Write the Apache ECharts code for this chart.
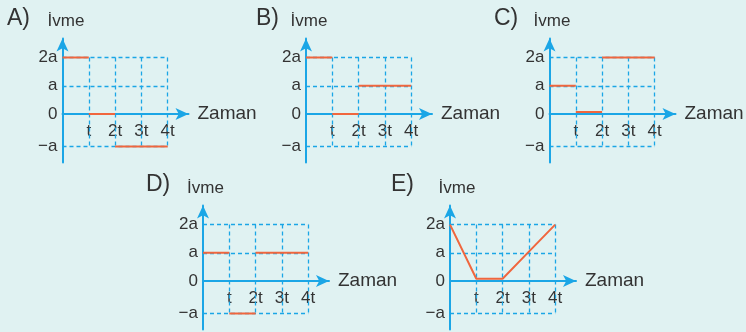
<!DOCTYPE html>
<html>
<head>
<meta charset="utf-8">
<script src="https://cdn.jsdelivr.net/npm/echarts@6/dist/echarts.min.js"></script>
<style>
    html, body { margin: 0; padding: 0; background: #e0f2f2; }
    #visualisation { width: 746px; height: 332px; }
</style>
</head>
<body>
<div id="visualisation"></div>
<script>
// Tijd-as: tick waarden en labels.
const timeTicks = [1, 2, 3, 4];
const timeLabels = ['t', '2t', '3t', '4t'];

// Ivme-as: tick waarden en labels (−a staat iets lager in het plaatje).
const accelTicks = [2, 1, 0, -1.15];
const accelLabels = ['2a', 'a', '0', '−a'];

// Ivme per interval: 0-t, t-2t, 2t-3t, 3t-4t.
const stepsA = [2, 0, -1.15, -1.15];
const stepsB = [2, 0, 1, 1];
const stepsC = [1, 0.07, 2, 2];
const stepsD = [1, -1.15, 1, 1];

// E is een gebroken lijn door 0, t, 2t, 3t, 4t.
const pointsE = [2, 0.08, 0.08, 1.04, 2];

const panelNames = ['A)', 'B)', 'C)', 'D)', 'E)'];

function drawVisualisation() {
    let visualisation = echarts.init(document.getElementById('visualisation'));

    const blue = '#1ba6e6';
    const orange = '#f0663e';
    const textColor = '#333333';
    const font = 'Liberation Sans';

    // Plaats van de oorsprong per paneel, en de schaal.
    const origins = [[62.5, 114], [306, 114], [549.5, 114], [203, 281], [450, 281]];
    const nameShift = [7, 6, 5, 5, 14];
    const letterPos = [[7, 7], [256, 7], [494, 7], [146, 173], [391, 173]];
    const xUnit = 26.3, yUnit = 28.2;
    const xMax = 4.79, yMax = 2.68, yMin = -1.72;

    // Zet de stappen om in losse lijnstukken.
    function stepSegments(steps) {
        let segs = [];
        let start = 0;
        for (let i = 1; i <= steps.length; i++) {
            if (i === steps.length || steps[i] !== steps[start]) {
                segs.push([[start, steps[start]], [i, steps[start]]]);
                start = i;
            }
        }
        return segs;
    }

    let panels = [
        stepSegments(stepsA),
        stepSegments(stepsB),
        stepSegments(stepsC),
        stepSegments(stepsD),
        [pointsE.map((v, i) => [i, v])]
    ];

    // Gestippeld raster uit de ticks.
    let top = accelTicks[0];
    let bottom = accelTicks[accelTicks.length - 1];
    let last = timeTicks[timeTicks.length - 1];
    let gridLines = [];
    accelTicks.filter(v => v !== 0).forEach(v => {
        gridLines.push([{ coord: [0, v] }, { coord: [last, v] }]);
    });
    timeTicks.forEach(t => {
        gridLines.push([{ coord: [t, top] }, { coord: [t, bottom] }]);
    });

    let grid = [], xAxis = [], yAxis = [], series = [], title = [];

    origins.forEach((o, i) => {
        grid.push({
            left: o[0],
            top: o[1] - yMax * yUnit,
            width: xMax * xUnit,
            height: (yMax - yMin) * yUnit,
            outerBoundsMode: 'none'
        });

        // De x-as zit op nul: omhoog schuiven vanaf de onderkant.
        xAxis.push({
            gridIndex: i,
            type: 'value',
            min: 0,
            max: xMax,
            position: 'bottom',
            offset: yMin * yUnit,
            name: 'Zaman',
            nameLocation: 'end',
            nameGap: 9,
            nameTextStyle: { fontSize: 19, color: textColor, fontFamily: font },
            axisLine: {
                onZero: false,
                symbol: ['none', 'arrow'],
                symbolSize: [9, 13],
                lineStyle: { color: blue, width: 2 }
            },
            axisTick: { show: false },
            splitLine: { show: false },
            axisLabel: {
                customValues: timeTicks,
                margin: 9,
                fontSize: 17,
                color: textColor,
                fontFamily: font,
                formatter: v => timeLabels[timeTicks.indexOf(v)]
            }
        });

        yAxis.push({
            gridIndex: i,
            type: 'value',
            min: yMin,
            max: yMax,
            name: 'İvme',
            nameLocation: 'end',
            nameGap: 9,
            nameTextStyle: {
                fontSize: 17, color: textColor, fontFamily: font,
                padding: [0, 0, 0, nameShift[i]]
            },
            axisLine: {
                onZero: false,
                symbol: ['none', 'arrow'],
                symbolSize: [9, 13],
                lineStyle: { color: blue, width: 2 }
            },
            axisTick: { show: false },
            splitLine: { show: false },
            axisLabel: {
                customValues: accelTicks,
                margin: 5,
                fontSize: 17,
                color: textColor,
                fontFamily: font,
                formatter: v => accelLabels[accelTicks.indexOf(v)]
            }
        });

        // Raster als markLine op een lege reeks.
        series.push({
            type: 'line',
            xAxisIndex: i,
            yAxisIndex: i,
            data: [],
            silent: true,
            z: 1,
            markLine: {
                silent: true,
                symbol: ['none', 'none'],
                label: { show: false },
                lineStyle: { color: blue, type: [4, 3], width: 1.3 },
                emphasis: { disabled: true },
                data: gridLines
            }
        });

        panels[i].forEach(seg => {
            series.push({
                type: 'line',
                xAxisIndex: i,
                yAxisIndex: i,
                data: seg,
                showSymbol: false,
                silent: true,
                z: 5,
                lineStyle: { color: orange, width: 2 }
            });
        });

        title.push({
            text: panelNames[i],
            left: letterPos[i][0],
            top: letterPos[i][1],
            padding: 0,
            textStyle: { fontSize: 23, fontWeight: 'normal', color: textColor, fontFamily: font }
        });
    });

    let option = {
        animation: false,
        backgroundColor: '#e0f2f2',
        title: title,
        grid: grid,
        xAxis: xAxis,
        yAxis: yAxis,
        series: series
    };

    visualisation.setOption(option);
}

window.addEventListener('load', drawVisualisation);
</script>
</body>
</html>
